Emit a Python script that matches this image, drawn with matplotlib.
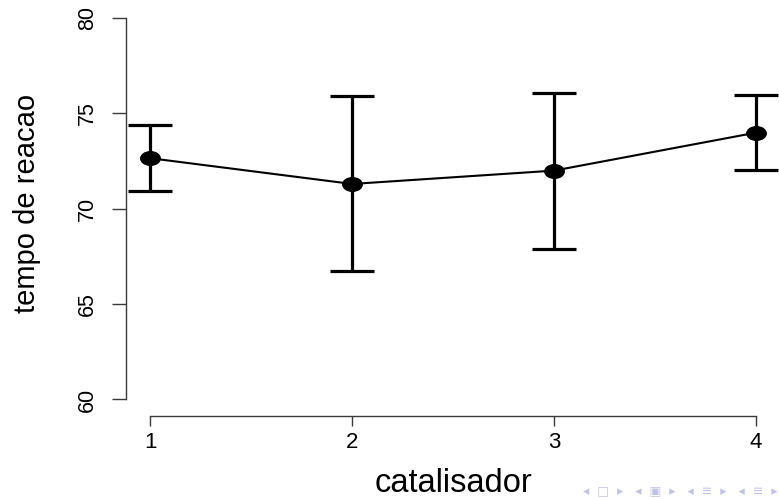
import matplotlib
matplotlib.use("Agg")
import matplotlib.pyplot as plt
from matplotlib.path import Path
import numpy as np

plt.rcParams['font.family'] = ['Liberation Sans', 'DejaVu Sans']

catalisador = [1, 2, 3, 4]
media = [72.65, 71.30, 72.00, 73.99]
limite_inf = [70.91, 66.74, 67.90, 72.05]
limite_sup = [74.40, 75.91, 76.07, 75.96]
yticks = [60, 65, 70, 75, 80]

fig = plt.figure(figsize=(7.79, 4.99), dpi=100)
ax = fig.add_axes([126 / 779, 1 - 414.7 / 499, (780.2 - 126) / 779, (414.7 - 2.8) / 499])

# slightly squashed dot, like the stretched R output
circ = Path.unit_circle()
ellipse = Path(circ.vertices * np.array([1.0, 0.7]), circ.codes)

x = np.array(catalisador)
m = np.array(media)
yerr = [m - np.array(limite_inf), np.array(limite_sup) - m]

ax.errorbar(x, m, yerr=yerr, fmt='none', ecolor='black', elinewidth=2.3,
            capsize=15.5, capthick=2.3)
ax.plot(x, m, color='black', linewidth=1.5, marker=ellipse, markersize=14,
        markerfacecolor='black', markeredgecolor='black')

ax.set_xlim(0.88, 4.12)
ax.set_ylim(59.2, 80.8)
ax.set_xticks(catalisador)
ax.set_yticks(yticks)

for s in ['top', 'right']:
    ax.spines[s].set_visible(False)
ax.spines['left'].set_bounds(60, 80)
ax.spines['bottom'].set_bounds(1, 4)
ax.spines['bottom'].set_position(('outward', 0.6))
for s in ['left', 'bottom']:
    ax.spines[s].set_color('#3a3a3a')
    ax.spines[s].set_linewidth(1.0)
ax.tick_params(axis='x', direction='out', length=7.2, width=1.0, color='#3a3a3a',
               labelsize=16, pad=5)
ax.tick_params(axis='y', direction='out', length=10, width=1.0, color='#3a3a3a',
               labelsize=15.5, pad=10, labelrotation=90)
for lab in ax.get_yticklabels():
    lab.set_va('center')

ax.set_xlabel('catalisador', fontsize=23.5)
ax.xaxis.label.set_va('baseline')
ax.xaxis.set_label_coords(0.5, (414.7 - 492) / 411.9)
ax.set_ylabel('tempo de reacao', fontsize=21)
ax.yaxis.label.set_va('center')
ax.yaxis.set_label_coords((27 - 126) / 654.2, (414.7 - 203) / 411.9)

# beamer navigation symbols, faint
fig.text(0.998, 0.004, '◂  □  ▸   ◂  ▣  ▸   ◂  ≡  ▸   ◂  ≡  ▸', ha='right', va='bottom',
         fontsize=9, color='#c0c5e6', family=['DejaVu Sans'])

fig.savefig('out.png', dpi=100)
